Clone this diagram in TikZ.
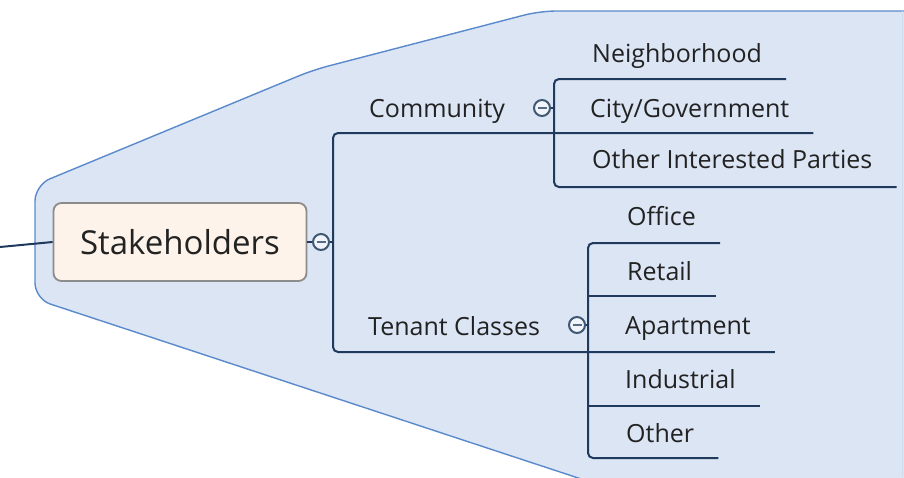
\documentclass[tikz,border=0pt]{standalone}
\usepackage{fontspec}
\setmainfont{Open Sans}
\usetikzlibrary{calc,positioning}
\definecolor{mapbg}{HTML}{DBE5F4}
\definecolor{mapedge}{HTML}{5A8ACB}
\definecolor{branchc}{HTML}{1F3A5C}
\definecolor{rootfill}{HTML}{FDF3EA}
\definecolor{rootedge}{HTML}{8C8C8C}
\definecolor{textc}{HTML}{222222}

\begin{document}
\begin{tikzpicture}[x=1pt,y=-1pt,
  branch/.style={draw=branchc, line width=2pt, rounded corners=5pt},
  topic/.style={anchor=base west, inner sep=0pt, text=textc, font=\fontsize{25}{30}\selectfont},
  toggle/.style={circle, draw=branchc!85, fill=mapbg!40, line width=2pt, minimum size=16pt, inner sep=0pt,
    path picture={\draw[branchc!75, line width=1.6pt] ([xshift=-4.5pt]path picture bounding box.center) -- ([xshift=4.5pt]path picture bounding box.center);}}]
  \useasboundingbox (0,0) rectangle (904,477);
  % boundary
  \fill[mapbg, rounded corners=16pt] (920,11) -- (540,11) -- (313,70) -- (35,185) -- (35,299) -- (645,500) -- (920,500) -- cycle;
  \draw[mapedge, line width=1.4pt, rounded corners=16pt] (920,11) -- (540,11) -- (313,70) -- (35,185) -- (35,299) -- (645,500);
  \draw[mapedge!30, line width=1pt] (902,11) -- (902,477);
  % central topic
  \node[draw=rootedge, fill=rootfill, line width=1.8pt, rounded corners=8pt, minimum width=253pt, minimum height=78pt,
    text=textc, font=\fontsize{33}{40}\selectfont] (root) at (180,242) {Stakeholders};
  \coordinate (in) at (0,247);
  \draw[branch] (in) -- (root.west);
  \node[toggle] (t0) at (321,242) {};
  \coordinate (mainv) at (333,242);
  \draw[branch] (root.east) -- (t0.west);
  \draw[branch] (t0.east) -- (mainv);
  % main topics
  \node[topic] (comm) at (369,117) {Community};
  \node[topic] (ten) at (368,335) {Tenant Classes};
  \node[toggle] (t1) at (542,108) {};
  \node[toggle] (t2) at (577,325) {};
  \coordinate (commv) at (554,108);
  \coordinate (tenv) at (588,325);
  % subtopics
  \node[topic] (nb) at (592,62) {Neighborhood};
  \node[topic] (cg) at (590,117) {City/Government};
  \node[topic] (oip) at (592,168) {Other Interested Parties};
  \node[topic] (off) at (627,225) {Office};
  \node[topic] (ret) at (627,280) {Retail};
  \node[topic] (apt) at (625,334) {Apartment};
  \node[topic] (ind) at (625,388) {Industrial};
  \node[topic] (oth) at (626,442) {Other};
  \coordinate (nbu) at ($(nb.base east)+(24,17)$);
  \coordinate (cgu) at ($(cg.base east)+(24,16)$);
  \coordinate (oipu) at ($(oip.base east)+(24,19)$);
  \coordinate (offu) at ($(off.base east)+(24,18)$);
  \coordinate (retu) at ($(ret.base east)+(24,16)$);
  \coordinate (aptu) at ($(apt.base east)+(24,18)$);
  \coordinate (indu) at ($(ind.base east)+(24,18)$);
  \coordinate (othu) at ($(oth.base east)+(24,16)$);
  % branches
  \draw[branch] (cgu) -- (mainv |- cgu) -- (mainv |- aptu) -- (aptu);
  \draw[branch] (t1.east) -- (commv);
  \draw[branch] (nbu) -- (commv |- nbu) -- (commv |- oipu) -- (oipu);
  \draw[branch] (t2.east) -- (tenv);
  \draw[branch] (offu) -- (tenv |- offu) -- (tenv |- othu) -- (othu);
  \draw[branch] (tenv |- retu) -- (retu);
  \draw[branch] (tenv |- indu) -- (indu);
\end{tikzpicture}
\end{document}
